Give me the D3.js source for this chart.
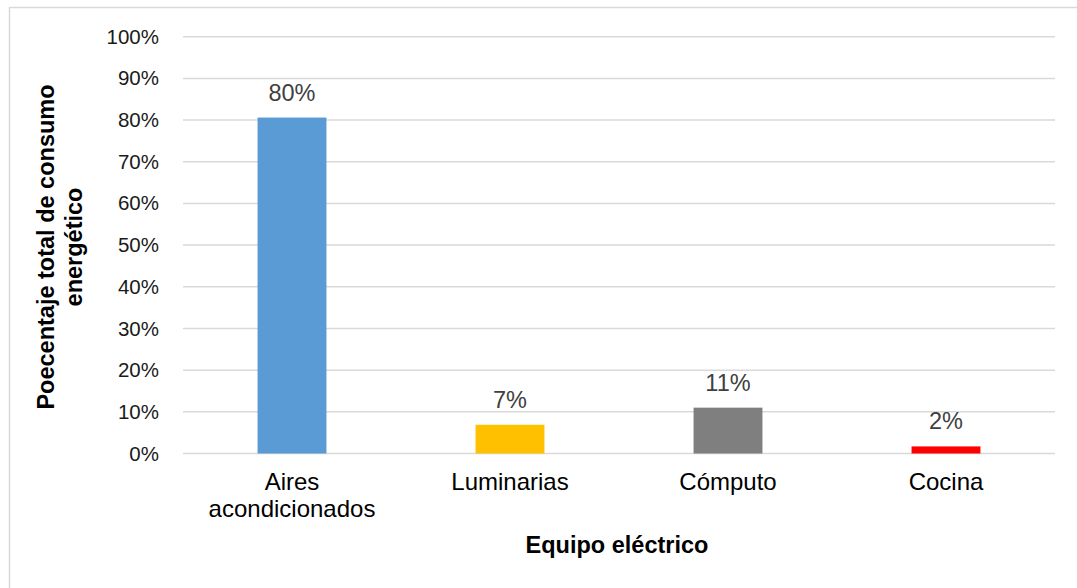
<!DOCTYPE html>
<html>
<head>
<meta charset="utf-8">
<script src="https://cdn.jsdelivr.net/npm/d3@7"></script>
<style>
  body { margin: 0; background: #fff; }
  svg { display: block; font-family: "Liberation Sans", Arial, sans-serif; }
</style>
</head>
<body>
<svg width="1077" height="588"></svg>
<script>
// chart data
var categories = ["Aires acondicionados", "Luminarias", "Cómputo", "Cocina"];
var values = [0.806, 0.069, 0.11, 0.017];
var valueLabels = ["80%", "7%", "11%", "2%"];
var barColors = ["#5b9bd5", "#ffc000", "#7f7f7f", "#ff0000"];
var yTicks = [0, 0.1, 0.2, 0.3, 0.4, 0.5, 0.6, 0.7, 0.8, 0.9, 1.0];

var svg = d3.select("svg");

// outer chart border (right / bottom run off the page)
svg.append("rect")
  .attr("x", 9.5).attr("y", 7.5)
  .attr("width", 1080).attr("height", 600)
  .attr("fill", "none")
  .attr("stroke", "#d9d9d9")
  .attr("stroke-width", 1.5);

var margin = {left: 183, right: 1055, top: 36.7, bottom: 453.5};

var x = d3.scaleBand()
  .domain(categories)
  .range([margin.left, margin.right])
  .paddingInner(0.684)
  .paddingOuter(0.342);

var y = d3.scaleLinear()
  .domain([0, 1])
  .range([margin.bottom, margin.top]);

// gridlines
svg.append("g")
  .selectAll("line")
  .data(yTicks)
  .enter().append("line")
  .attr("x1", margin.left).attr("x2", margin.right)
  .attr("y1", function(d) { return y(d); })
  .attr("y2", function(d) { return y(d); })
  .attr("stroke", "#d9d9d9")
  .attr("stroke-width", 1.5);

// y axis labels
var yAxis = d3.axisLeft(y)
  .tickValues(yTicks)
  .tickFormat(d3.format(".0%"))
  .tickSize(0)
  .tickPadding(10);

var yg = svg.append("g")
  .attr("transform", "translate(" + (margin.left - 14) + ",0)")
  .call(yAxis);
yg.select(".domain").remove();
yg.selectAll("text")
  .attr("font-size", 20.5)
  .attr("font-family", "Liberation Sans, Arial, sans-serif")
  .attr("fill", "#1a1a1a");

// bars
svg.append("g")
  .selectAll("rect")
  .data(categories)
  .enter().append("rect")
  .attr("x", function(d) { return x(d); })
  .attr("width", x.bandwidth())
  .attr("y", function(d, i) { return y(values[i]); })
  .attr("height", function(d, i) { return y(0) - y(values[i]); })
  .attr("fill", function(d, i) { return barColors[i]; });

// value labels
svg.append("g")
  .selectAll("text")
  .data(categories)
  .enter().append("text")
  .attr("x", function(d) { return x(d) + x.bandwidth() / 2; })
  .attr("y", function(d, i) { return y(values[i]) - 17; })
  .attr("text-anchor", "middle")
  .attr("font-size", 23.5)
  .attr("fill", "#404040")
  .text(function(d, i) { return valueLabels[i]; });

// category labels (wrap "Aires acondicionados" on two lines)
var xg = svg.append("g");
categories.forEach(function(c) {
  var words = c.split(" ");
  var t = xg.append("text")
    .attr("x", x(c) + x.bandwidth() / 2)
    .attr("y", 490)
    .attr("text-anchor", "middle")
    .attr("font-size", 24)
    .attr("fill", "#000");
  words.forEach(function(w, k) {
    t.append("tspan")
      .attr("x", x(c) + x.bandwidth() / 2)
      .attr("dy", k === 0 ? 0 : 27)
      .text(w);
  });
});

// axis titles
svg.append("text")
  .attr("x", 617)
  .attr("y", 553)
  .attr("text-anchor", "middle")
  .attr("font-size", 23.5)
  .attr("font-weight", "bold")
  .text("Equipo eléctrico");

var yt = svg.append("text")
  .attr("transform", "translate(54,247) rotate(-90)")
  .attr("text-anchor", "middle")
  .attr("font-size", 23.5)
  .attr("font-weight", "bold");
yt.append("tspan").attr("x", 0).attr("dy", 0).text("Poecentaje total de consumo");
yt.append("tspan").attr("x", 0).attr("dy", 28).text("energético");
</script>
</body>
</html>
